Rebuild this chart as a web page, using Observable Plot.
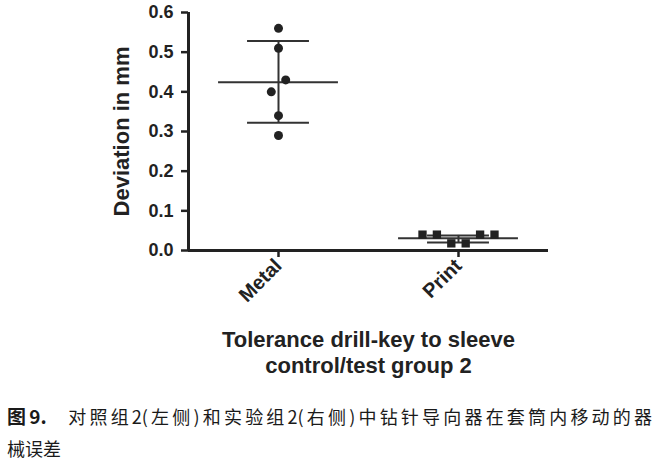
<!DOCTYPE html>
<html>
<head>
<meta charset="utf-8">
<script src="https://cdn.jsdelivr.net/npm/d3@7"></script>
<script src="https://cdn.jsdelivr.net/npm/@observablehq/plot@0.6"></script>
<style>
  body { margin: 0; background: #fff; }
  #chart svg { display: block; }
  #caption { font-family: "Noto Sans CJK SC", sans-serif; font-size: 18px; color: #1a1a1a;
             margin: 0 0 0 7px; width: 645px; line-height: 20px; }
  #caption .l1 { text-align: justify; text-align-last: justify; margin-top: 16px; }
  #caption .l2 { margin-top: 12px; }
  #caption b { font-weight: 700; font-size: 19px; }
</style>
</head>
<body>
<div id="chart"></div>
<div id="caption">
  <div class="l1"><b>图9.</b>&nbsp;&nbsp;&nbsp;对照组2(左侧)和实验组2(右侧)中钻针导向器在套筒内移动的器</div>
  <div class="l2">械误差</div>
</div>
<script>
const categories = ["Metal", "Print"];
const metalValues = [0.56, 0.51, 0.40, 0.43, 0.34, 0.29];
const printValues = [0.04, 0.04, 0.018, 0.018, 0.04, 0.04];
const meanValues = [0.424, 0.031];
const sdUpper = [0.528, 0.038];
const sdLower = [0.322, 0.020];
const yTicks = [0, 0.1, 0.2, 0.3, 0.4, 0.5, 0.6];
const xTitle = "Tolerance drill-key to sleeve\ncontrol/test group 2";
const yTitle = "Deviation in mm";

// layout: spread points that sit close together horizontally (scatter dodge)
const STEP = 0.08;
function spread(values, gi) {
  const out = [];
  let cluster = [];
  const flush = () => {
    const n = cluster.length;
    cluster.forEach((v, k) => out.push({x: gi + (k - (n - 1) / 2) * STEP, y: v}));
    cluster = [];
  };
  values.forEach((v, i) => {
    if (i > 0 && Math.abs(v - values[i - 1]) >= 0.045) flush();
    cluster.push(v);
  });
  flush();
  return out;
}
const metalPts = spread(metalValues, 0);
const printPts = spread(printValues, 1);
const groups = categories.map((c, i) => ({i, mean: meanValues[i], hi: sdUpper[i], lo: sdLower[i]}));

const MEAN_HALF = 0.333, CAP_HALF = 0.172;
const lineColor = "#333";

const chart = Plot.plot({
  width: 658,
  height: 390,
  marginLeft: 188,
  marginRight: 110,
  marginTop: 12,
  marginBottom: 140,
  style: {fontFamily: "'Liberation Sans', Arial, sans-serif", fontWeight: "bold", color: "#222", background: "#fff", overflow: "visible"},
  x: {domain: [-0.5, 1.5]},
  y: {domain: [0, 0.6]},
  marks: [
    Plot.axisY({ticks: yTicks, tickFormat: d3.format(".1f"), tickSize: 7, tickPadding: 8, fontSize: 18, strokeWidth: 2.5, label: null}),
    Plot.axisX({ticks: [0, 1], tickFormat: (i) => categories[i], tickRotate: -45, tickSize: 7, tickPadding: 5, fontSize: 20, strokeWidth: 2.5, label: null}),
    Plot.ruleY([0], {stroke: "#222", strokeWidth: 3}),
    Plot.ruleX([-0.5], {y1: 0, y2: 0.6, stroke: "#222", strokeWidth: 3}),
    Plot.ruleX(groups, {x: "i", y1: "lo", y2: "hi", stroke: lineColor, strokeWidth: 2}),
    Plot.ruleY(groups, {y: "mean", x1: (d) => d.i - MEAN_HALF, x2: (d) => d.i + MEAN_HALF, stroke: lineColor, strokeWidth: 2}),
    Plot.ruleY(groups, {y: "hi", x1: (d) => d.i - CAP_HALF, x2: (d) => d.i + CAP_HALF, stroke: lineColor, strokeWidth: 2}),
    Plot.ruleY(groups, {y: "lo", x1: (d) => d.i - CAP_HALF, x2: (d) => d.i + CAP_HALF, stroke: lineColor, strokeWidth: 2}),
    Plot.dot(metalPts, {x: "x", y: "y", r: 4.5, fill: "#222", symbol: "circle"}),
    Plot.dot(printPts, {x: "x", y: "y", r: 4.7, fill: "#222", symbol: "square"}),
    Plot.text([xTitle], {frameAnchor: "bottom", lineAnchor: "top", dy: 77, fontSize: 22, lineHeight: 1.22, fill: "#222"}),
    Plot.text([yTitle], {frameAnchor: "left", textAnchor: "middle", rotate: -90, dx: -67, fontSize: 22, fill: "#222"})
  ]
});
document.getElementById("chart").appendChild(chart);
</script>
</body>
</html>
